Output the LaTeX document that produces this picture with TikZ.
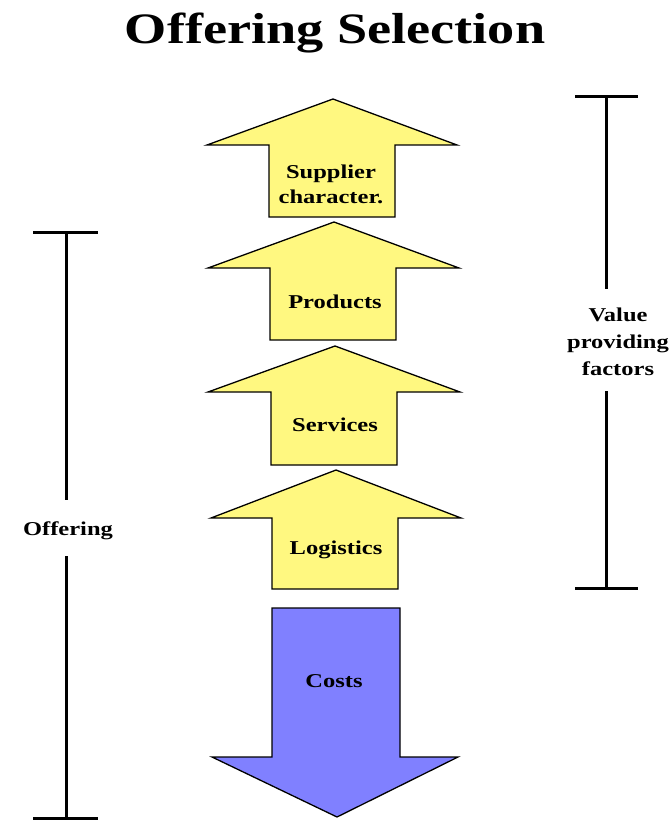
\documentclass[tikz,border=0pt]{standalone}
\usepackage{fontspec}
\newfontfamily\lblfont[FakeStretch=1.25]{Liberation Serif Bold}
\begin{document}
\begin{tikzpicture}[x=1pt,y=-1pt,
  yarrow/.style={draw=black,line width=1.3pt,fill=yellow!50,line join=miter},
  barrow/.style={draw=black,line width=1.3pt,fill=blue!50,line join=miter},
  lbl/.style={font=\lblfont\fontsize{19.6}{21}\selectfont,align=center,inner sep=0pt,anchor=base},
  bracket/.style={line width=3pt}]
\useasboundingbox (0,0) rectangle (670,821);
\fill[white] (0,0) rectangle (670,821);
% title
\node[font=\lblfont\fontsize{43.4}{46}\selectfont,inner sep=0pt,anchor=base] (title) at (335,44) {Offering Selection};
% yellow arrows: tip x, tip y, base y, head l, head r, shaft l, shaft r, bottom
\newcommand{\uparr}[8]{\draw[yarrow] (#1,#2) -- (#5,#3) -- (#7,#3) -- (#7,#8) -- (#6,#8) -- (#6,#3) -- (#4,#3) -- cycle;}
\uparr{333}{99}{145}{207}{457}{269}{395}{217}
\uparr{334}{222}{268}{208}{459}{270}{396}{340}
\uparr{335}{346}{392}{208}{460}{271}{397}{465}
\uparr{336}{470}{518}{211}{461}{272}{398}{589}
% costs arrow
\draw[barrow] (272,608) -- (400,608) -- (400,757) -- (458,757) -- (337,817) -- (212,757) -- (272,757) -- cycle;
% labels
\node[lbl,font=\lblfont\fontsize{19.6}{25}\selectfont] (sup) at (331,204) {Supplier\\character.};
\node[lbl] (prod) at (335,308) {Products};
\node[lbl] (serv) at (335,431) {Services};
\node[lbl] (log) at (336,554) {Logistics};
\node[lbl] (cost) at (334,687) {Costs};
% left bracket
\node[lbl] (off) at (68,535) {Offering};
\coordinate (ltop) at (66,232);
\coordinate (lbot) at (66,818);
\draw[bracket] (33,232) -- (98,232);
\draw[bracket] (33,818) -- (98,818);
\draw[bracket] (ltop) -- (66,500);
\draw[bracket] (66,556) -- (lbot);
% right bracket
\node[lbl,font=\lblfont\fontsize{19.6}{27}\selectfont] (val) at (618,375) {Value\\providing\\factors};
\draw[bracket] (575,97) -- (638,97);
\draw[bracket] (575,588) -- (638,588);
\draw[bracket] (606,97) -- (606,289);
\draw[bracket] (606,391) -- (606,588);
\end{tikzpicture}
\end{document}
